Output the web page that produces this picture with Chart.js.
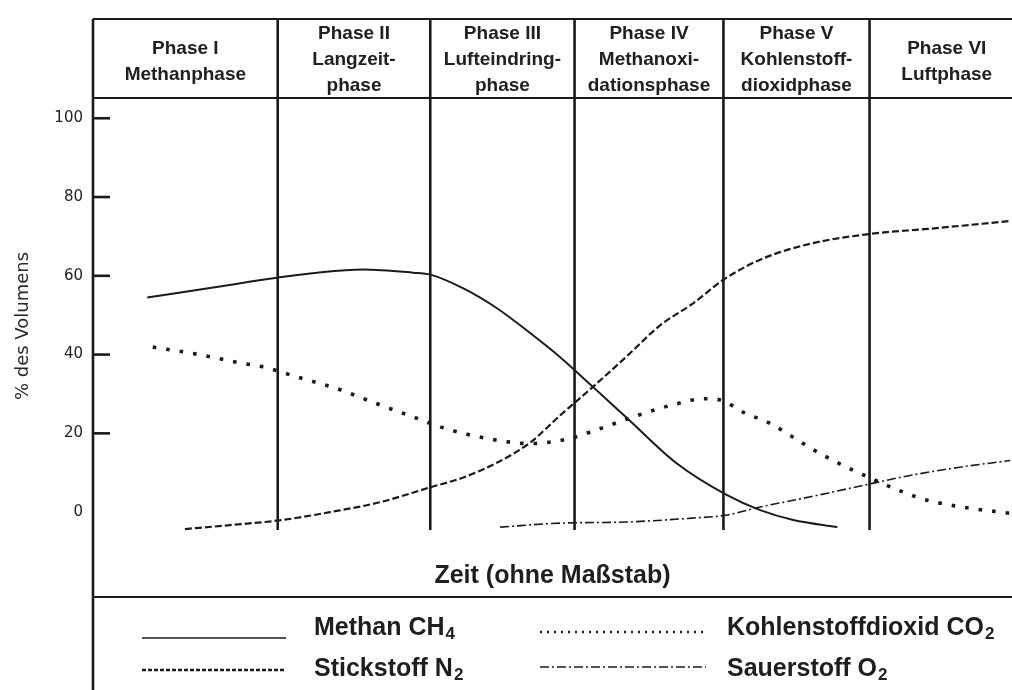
<!DOCTYPE html>
<html><head><meta charset="utf-8">
<script src="https://cdn.jsdelivr.net/npm/chart.js@4.4.0/dist/chart.umd.min.js"></script>
<style>html,body{margin:0;padding:0;background:#fff;} canvas{display:block}</style>
</head><body>
<canvas id="c" width="1012" height="690"></canvas>
<script>
// ---- data ----
const phaseNames = [
  ["Phase I", "Methanphase"],
  ["Phase II", "Langzeit-", "phase"],
  ["Phase III", "Lufteindring-", "phase"],
  ["Phase IV", "Methanoxi-", "dationsphase"],
  ["Phase V", "Kohlenstoff-", "dioxidphase"],
  ["Phase VI", "Luftphase"]
];
const phaseBounds = [0, 20.1, 36.7, 52.4, 68.6, 84.5, 101.3];
const yTicks = [0, 20, 40, 60, 80, 100];

const seriesLabels = ["Methan CH₄", "Stickstoff N₂", "Kohlenstoffdioxid CO₂", "Sauerstoff O₂"];

const methanTime   = [5.9, 13.8, 20.0, 24.4, 29.4, 34.8, 36.7, 40.3, 44.0, 47.6, 50.8, 54.4, 58.1, 63.5, 69.0, 72.6, 76.2, 81.0];
const methanValues = [54.5, 57.3, 59.5, 60.8, 61.6, 60.8, 60.3, 56.8, 51.7, 45.4, 39.4, 31.8, 23.9, 12.4, 4.3, 0.5, -2.0, -3.8];

const stickTime   = [10.0, 14.9, 20.6, 25.8, 31.2, 36.7, 40.3, 44.0, 47.6, 50.8, 54.4, 58.1, 61.7, 65.3, 68.6, 72.6, 78.0, 84.8, 90.8, 99.8];
const stickValues = [-4.3, -3.3, -2.0, 0.0, 2.5, 6.3, 8.8, 12.6, 17.7, 24.5, 31.8, 39.6, 47.4, 53.0, 59.0, 64.1, 68.1, 70.7, 71.9, 73.9];

const co2Time   = [6.5, 11.3, 16.0, 19.0, 21.8, 26.6, 30.9, 35.4, 38.1, 42.9, 47.6, 51.9, 54.8, 59.2, 63.5, 66.6, 68.2, 70.9, 73.7, 76.6, 79.1, 82.0, 83.5, 87.6, 90.8, 95.4, 99.8];
const co2Values = [41.9, 40.1, 37.9, 36.6, 34.6, 31.3, 27.5, 23.7, 21.4, 18.7, 17.4, 18.7, 20.9, 24.5, 27.5, 28.8, 28.5, 25.2, 22.5, 18.4, 14.9, 11.4, 9.8, 5.6, 3.0, 1.0, -0.3];

const o2Time   = [44.3, 50.8, 58.1, 65.3, 68.8, 72.6, 76.2, 79.9, 84.8, 88.9, 94.3, 99.8];
const o2Values = [-3.8, -2.8, -2.5, -1.5, -0.8, 1.3, 3.0, 4.8, 7.3, 9.3, 11.4, 13.1];

const toPts = (t, v) => t.map((x, i) => ({x, y: v[i]}));

const INK = '#1b1b1b';
const SUBS = '₀₁₂₃₄₅₆₇₈₉';

function drawLabel(ctx, text, x, y, size) {
  // draws text with unicode subscripts rendered as lowered smaller digits
  let cx = x;
  let buf = '';
  const flush = () => {
    if (!buf) return;
    ctx.font = 'bold ' + size + 'px "Liberation Sans", Arial, sans-serif';
    ctx.fillText(buf, cx, y);
    cx += ctx.measureText(buf).width;
    buf = '';
  };
  for (const ch of text) {
    const k = SUBS.indexOf(ch);
    if (k >= 0) {
      flush();
      ctx.font = 'bold ' + Math.round(size * 0.68) + 'px "Liberation Sans", Arial, sans-serif';
      ctx.fillText(String(k), cx + 1, y + size * 0.17);
      cx += ctx.measureText(String(k)).width + 1;
    } else buf += ch;
  }
  flush();
}

const framePlugin = {
  id: 'frame',
  beforeDatasetsDraw(chart) {
    const {ctx, chartArea: a, scales: {x, y}} = chart;
    const ln = (x1, y1, x2, y2, w) => {
      ctx.lineWidth = w; ctx.beginPath(); ctx.moveTo(x1, y1); ctx.lineTo(x2, y2); ctx.stroke();
    };
    ctx.save();
    ctx.strokeStyle = INK;
    ctx.setLineDash([]);
    // left axis line running down through the legend area
    ln(a.left, a.top, a.left, chart.height, 2.6);
    // top border and header bottom border
    ln(a.left, a.top, a.right, a.top, 2);
    ln(a.left, a.top + 79, a.right, a.top + 79, 2);
    // line under x title
    ln(a.left, a.bottom + 67, a.right, a.bottom + 67, 2);
    // phase dividers
    for (let i = 1; i < phaseBounds.length - 1; i++) {
      const px = x.getPixelForValue(phaseBounds[i]);
      ln(px, a.top, px, a.bottom, 2.6);
    }
    // y tick marks inside the plot
    yTicks.forEach(v => {
      if (v === 0) return;
      const py = y.getPixelForValue(v);
      ln(a.left, py, a.left + 17, py, 2.6);
    });
    ctx.restore();
  },
  afterDraw(chart) {
    const {ctx, chartArea: a, scales: {x}} = chart;
    ctx.save();
    ctx.fillStyle = '#202020';
    // header labels
    ctx.textAlign = 'center';
    ctx.textBaseline = 'middle';
    ctx.font = 'bold 19px "Liberation Sans", Arial, sans-serif';
    phaseNames.forEach((lines, i) => {
      const cx = (x.getPixelForValue(phaseBounds[i]) + x.getPixelForValue(phaseBounds[i + 1])) / 2;
      const mid = a.top + (lines.length === 3 ? 41 : 43);
      lines.forEach((t, j) => {
        ctx.fillText(t, cx, mid + (j - (lines.length - 1) / 2) * 26);
      });
    });
    // y axis title
    ctx.save();
    ctx.translate(23, a.top + 307);
    ctx.rotate(-Math.PI / 2);
    ctx.font = '18px "DejaVu Sans", sans-serif';
    ctx.fillStyle = '#2a2a2a';
    ctx.fillText('% des Volumens', 0, 0);
    ctx.restore();
    // legend
    const cols = [{s0: 142, s1: 286, tx: 314}, {s0: 540, s1: 706, tx: 727}];
    const rows = [{base: a.bottom + 105, line: a.bottom + 108}, {base: a.bottom + 146, line: a.bottom + 140}];
    const order = [[0, 0], [0, 1], [1, 0], [1, 1]];
    chart.data.datasets.forEach((ds, i) => {
      const c = cols[order[i][0]], r = rows[order[i][1]];
      const ly = r.line - (order[i][0] === 1 && order[i][1] === 0 ? 6 : 0) - (order[i][0] === 1 && order[i][1] === 1 ? 3 : 0);
      ctx.save();
      ctx.strokeStyle = ds.borderColor;
      ctx.lineWidth = ds.legendWidth;
      ctx.setLineDash(ds.legendDash);
      ctx.beginPath(); ctx.moveTo(c.s0, ly); ctx.lineTo(c.s1, ly); ctx.stroke();
      ctx.restore();
      ctx.textAlign = 'left';
      ctx.textBaseline = 'alphabetic';
      ctx.fillStyle = '#1e1e1e';
      drawLabel(ctx, ds.label, c.tx, r.base, 25);
    });
    ctx.restore();
  }
};

new Chart(document.getElementById('c'), {
  type: 'line',
  data: {
    datasets: [
      {label: seriesLabels[0], data: toPts(methanTime, methanValues), borderColor: INK, borderWidth: 2,
       borderDash: [], legendDash: [], legendWidth: 1.6},
      {label: seriesLabels[1], data: toPts(stickTime, stickValues), borderColor: INK, borderWidth: 2.2,
       borderDash: [7, 3], legendDash: [4, 2], legendWidth: 2.4},
      {label: seriesLabels[2], data: toPts(co2Time, co2Values), borderColor: INK, borderWidth: 3.6,
       borderDash: [3.6, 10], legendDash: [2, 5], legendWidth: 2.4},
      {label: seriesLabels[3], data: toPts(o2Time, o2Values), borderColor: INK, borderWidth: 1.6,
       borderDash: [9, 3, 2, 3], legendDash: [9, 3, 2, 3], legendWidth: 1.6}
    ].map(d => Object.assign(d, {pointRadius: 0, fill: false, cubicInterpolationMode: 'monotone', clip: 6}))
  },
  options: {
    responsive: false,
    animation: false,
    devicePixelRatio: 1,
    layout: {padding: {top: 16, right: 0, bottom: 0, left: 0}},
    plugins: {legend: {display: false}, tooltip: {enabled: false}},
    scales: {
      x: {
        type: 'linear', min: 0, max: 100,
        ticks: {display: false},
        grid: {display: false, drawTicks: false},
        border: {display: false},
        title: {display: true, text: 'Zeit (ohne Maßstab)', color: '#1e1e1e',
                font: {family: '"Liberation Sans", Arial, sans-serif', size: 25, weight: 'bold', lineHeight: 1.2},
                padding: {top: 0, bottom: 99}},
        afterFit(s) { s.height = 160; }
      },
      y: {
        type: 'linear', min: -4.54, max: 125.2,
        afterBuildTicks(s) { s.ticks = yTicks.map(v => ({value: v})); },
        ticks: {color: '#222', padding: 10, font: {family: '"DejaVu Sans", sans-serif', size: 15}},
        grid: {display: false, drawTicks: false},
        border: {display: false},
        afterFit(s) { s.width = 93; }
      }
    }
  },
  plugins: [framePlugin]
});
</script>
</body></html>
